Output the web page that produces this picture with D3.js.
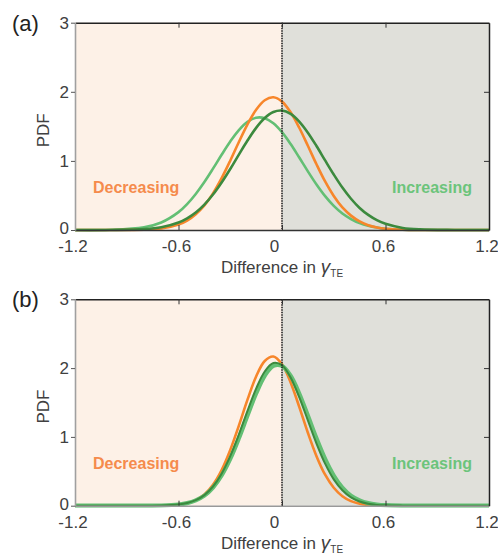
<!DOCTYPE html>
<html>
<head>
<meta charset="utf-8">
<script src="https://cdn.jsdelivr.net/npm/d3@7"></script>
<style>
  body { margin: 0; background: #fff; }
  text { font-family: "Liberation Sans", Arial, sans-serif; }
</style>
</head>
<body>
<div id="chart"></div>
<script>
var width = 498,
    height = 554;

// x positions shared by every curve
var xVals = [-1.2, -1.0, -0.8, -0.7, -0.6, -0.55, -0.5, -0.45, -0.4, -0.35, -0.3, -0.25, -0.2, -0.15, -0.1, -0.05,
             0, 0.05, 0.1, 0.15, 0.2, 0.25, 0.3, 0.35, 0.4, 0.45, 0.5, 0.55, 0.6, 0.7, 0.8, 1.0, 1.2];

// panel (a)
var aOrange = [0, 0, 0.005, 0.021, 0.079, 0.136, 0.228, 0.356, 0.530, 0.750, 1.003, 1.273, 1.529, 1.740, 1.878, 1.920,
               1.858, 1.703, 1.480, 1.219, 0.951, 0.702, 0.492, 0.326, 0.208, 0.124, 0.069, 0.037, 0.019, 0.004, 0, 0, 0];
var aDark = [0, 0.001, 0.012, 0.039, 0.108, 0.170, 0.254, 0.368, 0.513, 0.687, 0.883, 1.091, 1.295, 1.478, 1.620, 1.708,
             1.729, 1.681, 1.570, 1.409, 1.215, 1.007, 0.803, 0.614, 0.452, 0.319, 0.218, 0.142, 0.089, 0.030, 0.009, 0.001, 0];
var aLight = [0, 0.003, 0.039, 0.109, 0.259, 0.375, 0.522, 0.695, 0.888, 1.089, 1.281, 1.446, 1.565, 1.625, 1.618, 1.545,
              1.416, 1.244, 1.049, 0.849, 0.659, 0.490, 0.349, 0.239, 0.159, 0.099, 0.060, 0.035, 0.019, 0.005, 0.001, 0, 0];

// panel (b)
var bOrange = [0, 0, 0, 0.002, 0.016, 0.037, 0.082, 0.164, 0.304, 0.517, 0.809, 1.164, 1.541, 1.879, 2.104, 2.168,
               2.056, 1.792, 1.437, 1.060, 0.720, 0.450, 0.261, 0.138, 0.066, 0.030, 0.012, 0.005, 0.002, 0, 0, 0, 0];
var bDark = [0, 0, 0, 0.003, 0.017, 0.038, 0.080, 0.154, 0.279, 0.466, 0.721, 1.035, 1.379, 1.702, 1.951, 2.073,
             2.042, 1.864, 1.578, 1.241, 0.904, 0.611, 0.383, 0.225, 0.120, 0.061, 0.029, 0.012, 0.005, 0.001, 0, 0, 0];
var bLight = [0, 0, 0, 0.003, 0.017, 0.037, 0.077, 0.146, 0.263, 0.439, 0.680, 0.979, 1.310, 1.631, 1.889, 2.032,
              2.032, 1.889, 1.631, 1.310, 0.979, 0.680, 0.439, 0.263, 0.146, 0.077, 0.037, 0.017, 0.007, 0.001, 0, 0, 0];

var xTicks = [-1.2, -0.6, 0, 0.6, 1.2];
var xTickLabels = ["-1.2", "-0.6", "0", "0.6", "1.2"];
var yTicks = [0, 1, 2, 3];
var threshold = 0;

var orange = "#f7862b",
    darkGreen = "#3c8a3e",
    lightGreen = "#63bf74";

var svg = d3.select("#chart").append("svg")
    .attr("width", width)
    .attr("height", height);

var x = d3.scaleLinear().domain([-1.2, 1.2]).range([75, 489]);

var panels = [
  {label: "(a)", top: 22.7, bottom: 230, bottomColor: "#333",
   series: [{v: aLight, c: lightGreen, w: 2.6}, {v: aOrange, c: orange, w: 2.6}, {v: aDark, c: darkGreen, w: 2.6}]},
  {label: "(b)", top: 299.3, bottom: 505.7, bottomColor: "#999",
   series: [{v: bOrange, c: orange, w: 2.6}, {v: bLight, c: lightGreen, w: 4.2}, {v: bDark, c: darkGreen, w: 2}]}
];

panels.forEach(function(p, i) {
  var y = d3.scaleLinear().domain([0, 3]).range([p.bottom, p.top]);
  var g = svg.append("g");

  // shaded regions
  g.append("rect")
      .attr("x", x(-1.2)).attr("y", y(3))
      .attr("width", x(threshold) - x(-1.2)).attr("height", y(0) - y(3))
      .attr("fill", "#fdf1e7");
  g.append("rect")
      .attr("x", x(threshold)).attr("y", y(3))
      .attr("width", x(1.2) - x(threshold)).attr("height", y(0) - y(3))
      .attr("fill", "#e0e0da");

  g.append("text")
      .attr("x", 93).attr("y", y(0) - 37)
      .attr("font-size", 16).attr("font-weight", "bold")
      .attr("fill", "#f58b4c")
      .text("Decreasing");
  g.append("text")
      .attr("x", 472).attr("y", y(0) - 37)
      .attr("text-anchor", "end")
      .attr("font-size", 16).attr("font-weight", "bold")
      .attr("fill", "#6cc47b")
      .text("Increasing");

  var clipId = "clip" + i;
  svg.append("clipPath").attr("id", clipId)
    .append("rect")
      .attr("x", x(-1.2)).attr("y", y(3) - 2)
      .attr("width", x(1.2) - x(-1.2)).attr("height", y(0) - y(3) + 4);

  var line = d3.line()
      .x(function(d, j) { return x(xVals[j]); })
      .y(function(d) { return y(d); })
      .curve(d3.curveCatmullRom.alpha(0.5));

  g.append("g")
      .attr("clip-path", "url(#" + clipId + ")")
    .selectAll("path")
    .data(p.series)
    .enter().append("path")
      .attr("d", function(s) { return line(s.v); })
      .attr("fill", "none")
      .attr("stroke", function(s) { return s.c; })
      .attr("stroke-width", function(s) { return s.w; })
      .attr("stroke-linejoin", "round");

  // threshold line
  g.append("line")
      .attr("x1", x(threshold)).attr("x2", x(threshold))
      .attr("y1", y(3)).attr("y2", y(0))
      .attr("stroke", "#222").attr("stroke-width", 1.6)
      .attr("stroke-dasharray", "1.5,1");

  // axes
  var bottomAxis = g.append("g")
      .attr("transform", "translate(0," + y(0) + ")")
      .call(d3.axisBottom(x).tickValues(xTicks)
          .tickFormat(function(d, j) { return xTickLabels[j]; })
          .tickSizeInner(-5).tickSizeOuter(0).tickPadding(10));
  bottomAxis.select(".domain").attr("stroke", p.bottomColor).attr("stroke-width", 1.5);
  bottomAxis.selectAll("line").attr("stroke", "#333");
  bottomAxis.selectAll("text")
      .attr("font-size", 17).attr("fill", "#404040")
      .attr("font-family", "Liberation Sans, Arial, sans-serif")
      .attr("dx", function(d) { return d === 0 ? -8 : -2.5; });

  var topAxis = g.append("g")
      .attr("transform", "translate(0," + y(3) + ")")
      .call(d3.axisTop(x).tickValues([-0.6, 0, 0.6]).tickSizeInner(-5).tickSizeOuter(0).tickFormat(""));
  topAxis.select(".domain").attr("stroke", "#222").attr("stroke-width", 1.5);
  topAxis.selectAll("line").attr("stroke", "#333");

  var rightAxis = g.append("g")
      .attr("transform", "translate(" + x(1.2) + ",0)")
      .call(d3.axisRight(y).tickValues([1, 2]).tickSizeInner(-5).tickSizeOuter(0).tickFormat(""));
  rightAxis.select(".domain").attr("stroke", "#222").attr("stroke-width", 1.5);
  rightAxis.selectAll("line").attr("stroke", "#333");

  var leftAxis = g.append("g")
      .attr("transform", "translate(" + x(-1.2) + ",0)")
      .call(d3.axisLeft(y).tickValues(yTicks).tickSizeInner(4).tickSizeOuter(0).tickPadding(2)
          .tickFormat(d3.format("d")));
  leftAxis.select(".domain").attr("stroke", "#a0a0a0").attr("stroke-width", 1.6);
  leftAxis.selectAll("line").attr("stroke", "#555");
  leftAxis.selectAll("text")
      .attr("font-size", 17).attr("fill", "#404040")
      .attr("font-family", "Liberation Sans, Arial, sans-serif")
      .attr("dy", function(d) { return d === 0 ? "0.2em" : "0.32em"; });

  // axis titles
  g.append("text")
      .attr("transform", "translate(49," + ((y(0) + y(3)) / 2 + 4) + ") rotate(-90)")
      .attr("text-anchor", "middle")
      .attr("font-size", 17).attr("fill", "#404040")
      .text("PDF");

  var xt = g.append("text")
      .attr("x", 282).attr("y", y(0) + 43)
      .attr("text-anchor", "middle")
      .attr("font-size", 17).attr("fill", "#404040");
  xt.append("tspan").text("Difference in ");
  xt.append("tspan").attr("font-style", "italic").attr("font-size", 19).text("\u03b3");
  xt.append("tspan").attr("font-size", 10).attr("dy", 4).text("TE");

  g.append("text")
      .attr("x", 12).attr("y", y(3) + 8)
      .attr("font-size", 22).attr("fill", "#222")
      .text(p.label);
});
</script>
</body>
</html>
